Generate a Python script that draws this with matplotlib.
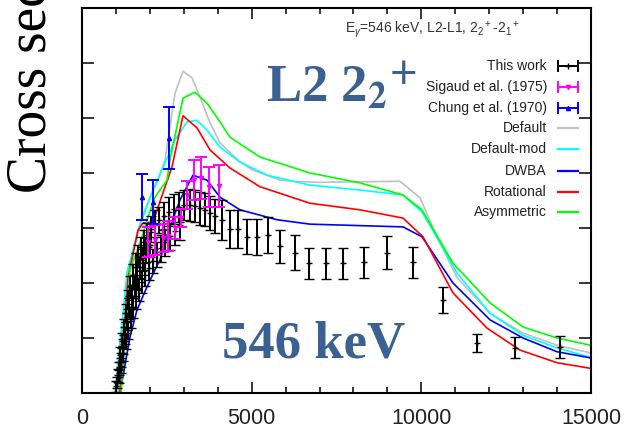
import matplotlib
matplotlib.use("Agg")
import matplotlib.pyplot as plt

plt.rcParams['font.family'] = ['Liberation Sans', 'DejaVu Sans']
plt.rcParams['mathtext.fontset'] = 'custom'
plt.rcParams['mathtext.rm'] = 'Liberation Sans'
plt.rcParams['mathtext.it'] = 'Liberation Sans:italic'

# ---- model curves (keV, arbitrary units) ----
default_e = [1060, 1350, 1768, 2004, 2210, 2446, 2740, 2976, 3242, 3477, 3772, 4067, 4656,
             5040, 5452, 5835, 6218, 7014, 8193, 9372, 9961, 10462, 11050, 12024, 12996, 13998, 14970]
default_y = [0.0, 2.2, 3.2, 3.56, 3.82, 4.24, 5.45, 5.85, 5.73, 5.38, 4.91, 4.55, 4.2,
             4.05, 3.96, 3.87, 3.85, 3.83, 3.84, 3.85, 3.55, 2.84, 2.1, 1.45, 1.09, 0.87, 0.73]

defmod_e = [970, 1330, 1650, 1798, 2092, 2446, 2740, 3094, 3389, 3684, 4067, 4656, 5452,
            6719, 8193, 9460, 10020, 10550, 11050, 12024, 12996, 13998, 14970]
defmod_y = [0.0, 2.2, 2.96, 3.2, 3.69, 4.18, 4.6, 4.93, 4.96, 4.78, 4.47, 4.2, 3.96,
            3.78, 3.69, 3.6, 3.29, 2.73, 2.18, 1.45, 1.05, 0.82, 0.65]

dwba_e = [1120, 1415, 1620, 1916, 2150, 2298, 2593, 2888, 3271, 3684, 4067, 4656, 5747,
          6719, 9460, 10020, 10933, 12024, 12996, 13998, 14970]
dwba_y = [0.0, 1.02, 1.51, 1.93, 2.24, 2.42, 3.02, 3.51, 3.96, 3.87, 3.56, 3.33, 3.15,
          3.07, 3.02, 2.84, 2.0, 1.33, 1.0, 0.75, 0.64]

rot_e = [1120, 1356, 1650, 1798, 2092, 2387, 2652, 2976, 3389, 3772, 4362, 5246, 6719,
         8193, 9460, 10049, 10933, 11935, 12908, 14000, 14970]
rot_y = [0.0, 2.09, 2.96, 3.09, 3.11, 3.64, 4.11, 5.04, 4.82, 4.42, 4.09, 3.75, 3.45,
         3.33, 3.18, 2.84, 1.82, 1.18, 0.78, 0.55, 0.45]

asym_e = [1150, 1415, 1768, 1945, 2150, 2505, 2593, 2976, 3330, 3684, 4067, 4362, 5246,
          6719, 8193, 9460, 10020, 10933, 12024, 12996, 13998, 14970]
asym_y = [0.0, 2.24, 2.84, 3.2, 3.56, 3.87, 4.24, 5.36, 5.47, 5.27, 4.93, 4.65, 4.29,
          4.0, 3.82, 3.6, 3.33, 2.36, 1.64, 1.2, 1.0, 0.87]

# ---- This work ----
tw_e = [1010, 1030, 1060, 1080, 1100, 1130, 1150, 1160, 1180, 1200, 1220, 1230, 1260, 1290,
        1290, 1320, 1350, 1360, 1390, 1420, 1430, 1470, 1500, 1510, 1550, 1580, 1590, 1630,
        1660, 1680, 1720, 1740, 1770, 1800, 1830, 1870, 1900, 1930, 1970, 2000, 2030, 2080,
        2150, 2200, 2280, 2330, 2420, 2460, 2570, 2600, 2720, 2750, 2870, 2900, 3020, 3170,
        3320, 3470, 3620, 3770, 3920,
        4126, 4362, 4597, 4862, 5157, 5481, 5835, 6277, 6690, 7190, 7692, 8310, 8988, 9754,
        10638, 11640, 12760, 14087]
tw_y = [0.12, 0.2, 0.32, 0.45, 0.3, 0.7, 0.6, 0.5, 0.95, 0.85, 0.72, 1.2, 1.05, 1.45,
        0.95, 1.3, 1.7, 1.15, 1.55, 1.95, 1.35, 1.75, 2.15, 1.55, 1.95, 2.35, 1.72, 2.1,
        2.5, 1.88, 2.3, 2.62, 2.02, 2.45, 2.75, 2.15, 2.6, 2.88, 2.28, 2.7, 2.98, 2.4,
        3.08, 2.52, 3.15, 2.63, 3.22, 2.74, 3.3, 2.85, 3.35, 2.95, 3.38, 3.05, 3.42, 3.42,
        3.4, 3.36, 3.33, 3.28, 3.22,
        3.15, 2.98, 2.98, 2.84, 2.84, 2.87, 2.67, 2.55, 2.36, 2.36, 2.36, 2.38, 2.55, 2.38,
        1.69, 0.91, 0.82, 0.84]
tw_err = [0.1, 0.1, 0.12, 0.12, 0.12, 0.13, 0.13, 0.13, 0.14, 0.14, 0.14, 0.15, 0.15, 0.16,
          0.15, 0.16, 0.17, 0.16, 0.17, 0.18, 0.17, 0.18, 0.19, 0.18, 0.19, 0.2, 0.19, 0.2,
          0.2, 0.2, 0.2, 0.21, 0.2, 0.21, 0.22, 0.21, 0.22, 0.22, 0.22, 0.22, 0.23, 0.22,
          0.24, 0.23, 0.24, 0.24, 0.25, 0.25, 0.26, 0.25, 0.27, 0.26, 0.27, 0.27, 0.28, 0.29,
          0.29, 0.3, 0.3, 0.31, 0.31,
          0.36, 0.35, 0.35, 0.32, 0.33, 0.33, 0.3, 0.32, 0.28, 0.28, 0.28, 0.28, 0.3, 0.28,
          0.23, 0.17, 0.19, 0.2]

# ---- Sigaud et al. (1975) ----
sig_e = [1945, 2151, 2387, 2534, 2741, 2918, 3094, 3301, 3507, 3743, 4037]
sig_y = [2.75, 2.78, 2.82, 2.85, 3.0, 3.18, 3.6, 3.87, 3.91, 3.75, 3.76]
sig_err = [0.27, 0.27, 0.25, 0.27, 0.2, 0.16, 0.25, 0.36, 0.38, 0.36, 0.38]

# ---- Chung et al. (1970) ----
chung_e = [1768, 2092, 2564]
chung_y = [3.56, 3.47, 4.64]
chung_err = [0.42, 0.4, 0.56]

legend_labels = ["This work", "Sigaud et al. (1975)", "Chung et al. (1970)", "Default",
                 "Default-mod", "DWBA", "Rotational", "Asymmetric"]

fig = plt.figure(figsize=(6.3, 4.32), dpi=100)
ax = fig.add_axes([82 / 630, 39 / 432, 509 / 630, 385 / 432])

lw = 1.2
ax.plot(default_e, default_y, color='#c0c0c0', lw=lw)
ax.plot(defmod_e, defmod_y, color='#00ffff', lw=lw)
ax.plot(dwba_e, dwba_y, color='#0000ff', lw=lw)
ax.plot(rot_e, rot_y, color='#ff0000', lw=lw)
ax.plot(asym_e, asym_y, color='#00ff00', lw=lw)

ax.errorbar(tw_e, tw_y, yerr=tw_err, fmt='+', color='k', ms=4, mew=1,
            elinewidth=1.4, capsize=3.3, capthick=1.4, zorder=3)
ax.errorbar(sig_e, sig_y, yerr=sig_err, fmt='v', color='#ff00ff', ms=3,
            elinewidth=1.4, capsize=4.5, capthick=1.4, zorder=4)
ax.errorbar(chung_e, chung_y, yerr=chung_err, fmt='^', color='#0000ff', ms=3,
            elinewidth=1.4, capsize=4.5, capthick=1.4, zorder=4)

ax.set_xlim(0, 15000)
ax.set_ylim(0, 7)
ax.set_xticks([0, 5000, 10000, 15000])
ax.set_xticks(range(0, 15001, 1000), minor=True)
ax.set_yticks([1, 2, 3, 4, 5, 6])
ax.set_yticklabels([])
ax.tick_params(axis='x', which='major', direction='in', length=8, width=1.1, top=True,
               labelsize=15.5, pad=11, labelcolor='#222222')
ax.tick_params(axis='x', which='minor', direction='in', length=4, width=1.1, top=True)
ax.tick_params(axis='y', which='major', direction='in', length=8.5, width=1.1, right=True)
for s in ax.spines.values():
    s.set_linewidth(1.5)

# annotations
ax.text(0.517, 0.935, r"E$_\gamma$=546 keV, L2-L1, 2$_2$$^+$-2$_1$$^+$", transform=ax.transAxes,
        fontsize=10, color='#333333', va='baseline')
ax.text(0.362, 0.756, r"L2 2$_{\mathbf{2}}$$^{\mathbf{+}}$", transform=ax.transAxes,
        fontsize=38, color='#3a6192', family='Liberation Serif', weight='bold',
        math_fontfamily='stix', va='baseline')
ax.text(0.275, 0.091, "546 keV", transform=ax.transAxes, fontsize=38, color='#3a6192',
        family='Liberation Serif', weight='bold', va='baseline')

# legend drawn by hand (text right-aligned, sample to the right)
row_y = [(393 - py) / 385 for py in [66, 87, 108, 128, 149, 171, 192, 212]]
tx, h0, h1 = (547 - 82) / 509, (558 - 82) / 509, (578 - 82) / 509
hm = (h0 + h1) / 2
styles = [('k', '+'), ('#ff00ff', 'v'), ('#0000ff', '^'), ('#c0c0c0', None),
          ('#00ffff', None), ('#0000ff', None), ('#ff0000', None), ('#00ff00', None)]
for lab, yy, (c, m) in zip(legend_labels, row_y, styles):
    ax.text(tx, yy, lab, transform=ax.transAxes, ha='right', va='center',
            fontsize=10, color='#222222')
    if m is None:
        ax.plot([h0, h1], [yy, yy], color=c, lw=1.6, transform=ax.transAxes, clip_on=False)
    else:
        ax.plot([h0, h1], [yy, yy], color=c, lw=1.4, marker='|', ms=8, mew=1.4,
                transform=ax.transAxes, clip_on=False)
        ax.plot([hm], [yy], color=c, marker=m, ms=4 if m == '+' else 3,
                transform=ax.transAxes, clip_on=False)

# cut-off y label (the reference crops it at the top edge)
fig.text(58 / 630, (432 - 193) / 432, "Cross section", rotation=90, ha='right', va='bottom',
         family='Liberation Serif', fontsize=40)

fig.savefig("out.png", dpi=100)
